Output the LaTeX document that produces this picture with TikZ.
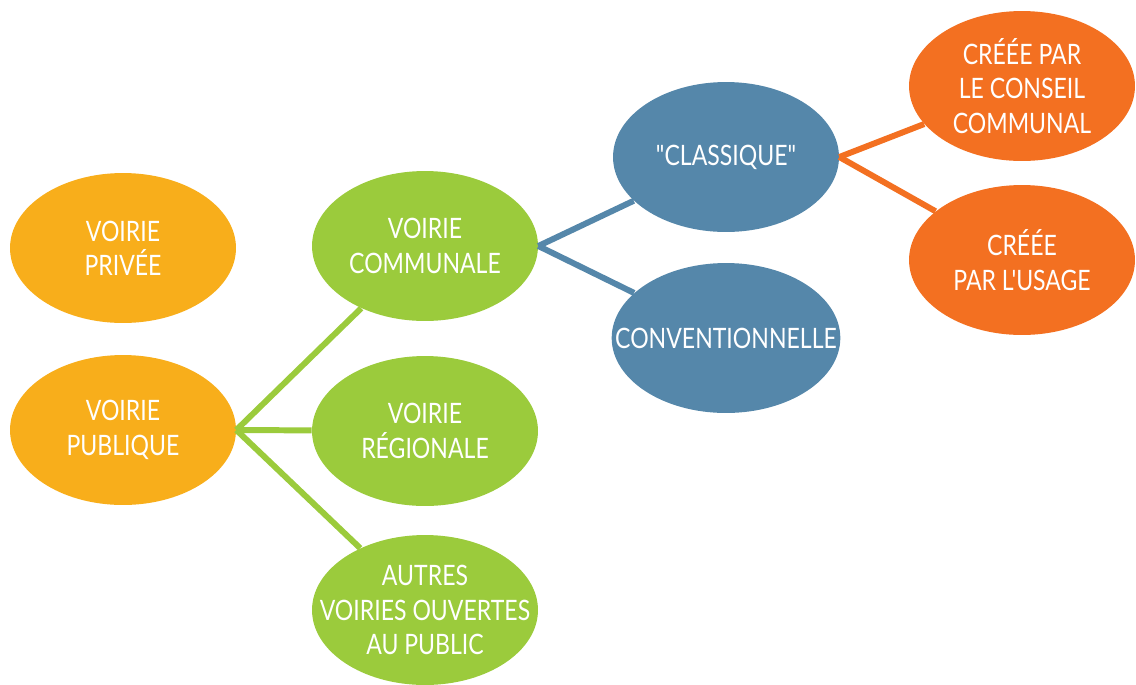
\documentclass[tikz,border=0pt]{standalone}
\usepackage{fontspec}
\newfontfamily\voiefont{Lato}[FakeStretch=0.82]
\usetikzlibrary{shapes.geometric}
\definecolor{jaune}{HTML}{F8AE1B}
\definecolor{vert}{HTML}{9BCB3C}
\definecolor{bleu}{HTML}{5587AA}
\definecolor{orange}{HTML}{F37021}

\begin{document}
\begin{tikzpicture}[x=0.02cm,y=-0.02cm,
    voie/.style={ellipse, minimum width=4.52cm, minimum height=3cm,
      inner xsep=-0.6cm, inner ysep=-0.35cm,
      text=white, align=center, font=\voiefont\fontsize{16}{19.5}\selectfont},
    lien/.style={line width=3.4pt}]
  \useasboundingbox (0,0) rectangle (1136,684);
  \clip (0,0) rectangle (1136,684);

  % niveau 1
  \node[voie, fill=jaune] (privee)   at (123,248) {VOIRIE\\PRIVÉE};
  \node[voie, fill=jaune] (publique) at (123,430) {VOIRIE\\PUBLIQUE};

  % niveau 2
  \node[voie, fill=vert] (communale) at (425,246) {VOIRIE\\COMMUNALE};
  \node[voie, fill=vert] (regionale) at (425,431) {VOIRIE\\RÉGIONALE};
  \node[voie, fill=vert] (autres)    at (425,610) {AUTRES\\VOIRIES OUVERTES\\AU PUBLIC};

  % niveau 3
  \node[voie, fill=bleu] (classique) at (726,157) {"CLASSIQUE"};
  \node[voie, fill=bleu] (convent)   at (726,338) {CONVENTIONNELLE};

  % niveau 4
  \node[voie, fill=orange] (conseil) at (1022,86)  {CRÉÉE PAR\\LE CONSEIL\\COMMUNAL};
  \node[voie, fill=orange] (usage)   at (1022,260) {CRÉÉE\\PAR L'USAGE};

  \draw[lien, vert] (publique.east) -- (communale);
  \draw[lien, vert] (publique.east) -- (regionale);
  \draw[lien, vert] (publique.east) -- (autres);
  \draw[lien, bleu] (communale.east) -- (classique);
  \draw[lien, bleu] (communale.east) -- (convent);
  \draw[lien, orange] (classique.east) -- (conseil);
  \draw[lien, orange] (classique.east) -- (usage);
\end{tikzpicture}
\end{document}
